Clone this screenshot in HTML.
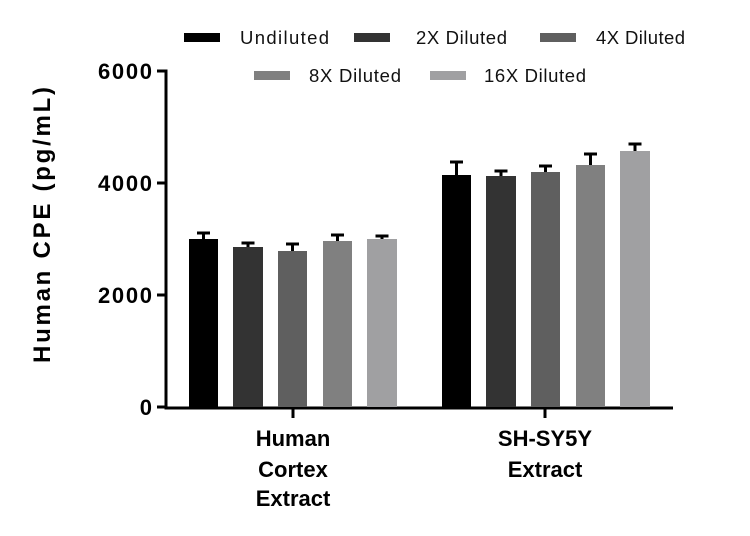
<!DOCTYPE html>
<html><head><meta charset="utf-8"><style>
body{margin:0;background:#fff;}
svg{display:block;font-family:"Liberation Sans",sans-serif;}
</style></head><body>
<svg width="750" height="536" viewBox="0 0 750 536">
<g font-size="18.5" fill="#111">
<rect x="184" y="33" width="36" height="9" fill="#000"/><text x="240" y="44" textLength="89">Undiluted</text>
<rect x="354" y="33" width="36" height="9" fill="#333"/><text x="416" y="44" textLength="91">2X Diluted</text>
<rect x="540" y="33" width="36" height="9" fill="#5f5f5f"/><text x="596" y="44" textLength="89">4X Diluted</text>
<rect x="254" y="71" width="36" height="9" fill="#808080"/><text x="309" y="82" textLength="92">8X Diluted</text>
<rect x="430" y="71" width="36" height="9" fill="#a0a0a2"/><text x="484" y="82" textLength="102">16X Diluted</text>
</g>
<g stroke="#000" stroke-width="3" fill="none">
<path d="M157 71H166V408H673"/>
<path d="M157 183H166M157 295H166M157 407H166"/>
<path d="M293 408V418M545 408V418"/>
</g>
<g font-size="22" font-weight="bold" text-anchor="end">
<text x="152" y="79" textLength="54">6000</text>
<text x="152" y="191" textLength="54">4000</text>
<text x="152" y="303" textLength="54">2000</text>
<text x="152" y="415">0</text>
</g>
<text transform="translate(50,225) rotate(-90)" font-size="24" font-weight="bold" text-anchor="middle" textLength="276">Human CPE (pg/mL)</text>
<g font-size="22" font-weight="bold" text-anchor="middle">
<text x="293" y="446">Human</text><text x="293" y="477">Cortex</text><text x="293" y="506">Extract</text>
<text x="545" y="446">SH-SY5Y</text><text x="545" y="477">Extract</text>
</g>
<g>
<rect x="189" y="239" width="29" height="168" fill="#000"/>
<rect x="233" y="247" width="30" height="160" fill="#333"/>
<rect x="278" y="251" width="29" height="156" fill="#5f5f5f"/>
<rect x="323" y="241" width="29" height="166" fill="#808080"/>
<rect x="367" y="239" width="30" height="168" fill="#a0a0a2"/>
<rect x="442" y="175" width="29" height="232" fill="#000"/>
<rect x="486" y="176" width="30" height="231" fill="#333"/>
<rect x="531" y="172" width="29" height="235" fill="#5f5f5f"/>
<rect x="576" y="165" width="29" height="242" fill="#808080"/>
<rect x="620" y="151" width="30" height="256" fill="#a0a0a2"/>
</g>
<g stroke="#000" stroke-width="3">
<path d="M203.5 239V233M197 233H210"/>
<path d="M248 247V243M241.5 243H254.5"/>
<path d="M292.5 251V244M286 244H299"/>
<path d="M337.5 241V235M331 235H344"/>
<path d="M382 239V236M375.5 236H388.5"/>
<path d="M456.5 175V162M450 162H463"/>
<path d="M501 176V171M494.5 171H507.5"/>
<path d="M545.5 172V166M539 166H552"/>
<path d="M590.5 165V154M584 154H597"/>
<path d="M635 151V144M628.5 144H641.5"/>
</g>
</svg>
</body></html>
